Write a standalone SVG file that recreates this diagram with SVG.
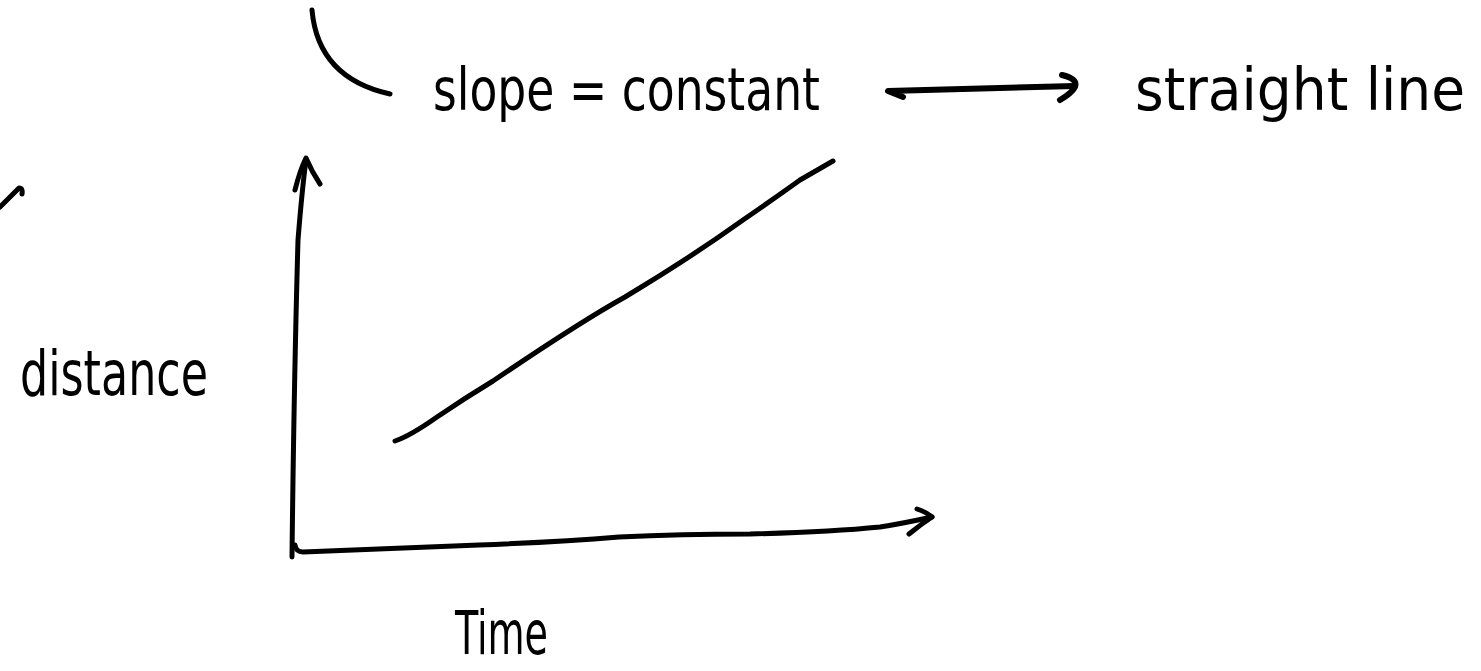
<svg xmlns="http://www.w3.org/2000/svg" width="1481" height="671" viewBox="0 0 1481 671">
<style>
.ink{fill:none;stroke:#000;stroke-width:5;stroke-linecap:round;stroke-linejoin:round}
.thick{stroke-width:6}
.hand{font-family:"Liberation Sans Narrow","DejaVu Sans Condensed","Liberation Sans",sans-serif;fill:#000}
</style>
<rect width="1481" height="671" fill="#fff"/>
<g id="marks">
<path class="ink" d="M312,10 Q318,78 390,94"/>
<path class="ink" d="M0,207 L19,188 Q23,188 22,194"/>
</g>
<g id="label-slope">
<text class="hand" x="433" y="110" font-size="58" textLength="387" lengthAdjust="spacingAndGlyphs">slope = constant</text>
</g>
<g id="label-straight">
<text class="hand" x="1135" y="110" font-size="58" textLength="330" lengthAdjust="spacingAndGlyphs">straight line</text>
</g>
<g id="label-distance">
<text class="hand" x="20" y="395" font-size="62" textLength="188" lengthAdjust="spacingAndGlyphs">distance</text>
</g>
<g id="label-time">
<text class="hand" x="455" y="654" font-size="60" textLength="93" lengthAdjust="spacingAndGlyphs">Time</text>
</g>
<g id="plot-line">
<path class="ink" d="M395,441 Q410,436 437,417 Q465,398 493,381 Q580,322 625,297 Q690,258 743,220 Q775,198 800,180 L833,161"/>
</g>
<g id="connectors">
<path class="ink thick" d="M903,97 L888,91 L1075,86"/>
<path class="ink thick" d="M1062,75 Q1090,82 1060,100"/>
<path class="ink" d="M292,557 Q294,380 298,240 Q302,190 306,160"/>
<path class="ink" d="M295,190 Q300,170 306,158 Q312,172 320,184"/>
<path class="ink" d="M295,545 Q296,552 303,552 Q400,548 479,545 Q560,542 619,537 Q680,534 750,534 Q830,532 880,527 Q900,524 932,517"/>
<path class="ink" d="M917,509 Q926,512 932,517 Q920,525 909,534"/>
</g>
</svg>
